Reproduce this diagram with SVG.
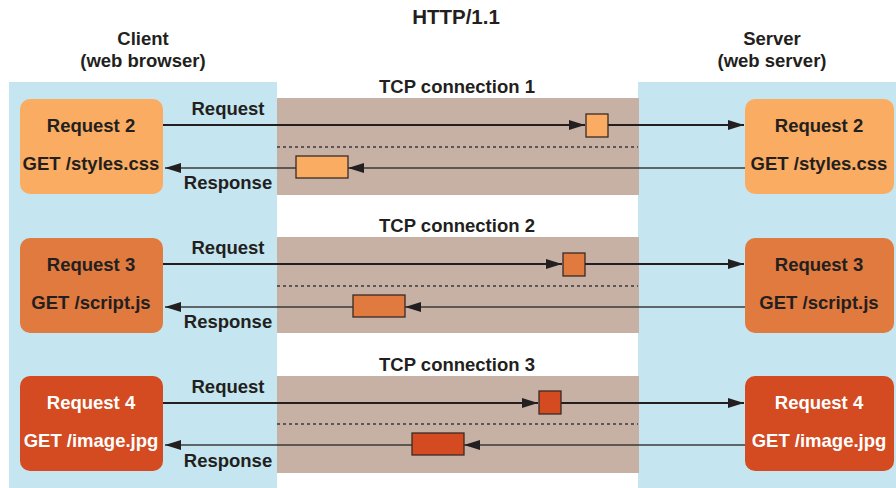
<svg xmlns="http://www.w3.org/2000/svg" width="896" height="488" viewBox="0 0 896 488">
<defs>
<style>
text{font-family:"Liberation Sans",Arial,sans-serif;font-weight:bold;fill:#231F20;text-anchor:middle}
.h{font-size:18.5px}
.t{font-size:20.5px}
.n{font-size:18.5px}
.w{fill:#fff}
.req{stroke:#231F20;stroke-width:2.2;fill:none}
.res{stroke:#3a3a3a;stroke-width:1.6;fill:none}
.dash{stroke:#3a3a3a;stroke-width:1.5;stroke-dasharray:3 3;fill:none}
.pk{stroke:#3a2a25;stroke-width:1.3}
</style>
<marker id="ar2" markerWidth="16" markerHeight="10" refX="16" refY="5" orient="auto" markerUnits="userSpaceOnUse" viewBox="0 0 16 10">
<path d="M0,0 L16,5 L0,10 Z" fill="#231F20"/>
</marker>
</defs>
<rect width="896" height="488" fill="#fff"/>
<text class="t" x="456" y="24">HTTP/1.1</text>
<text class="h" x="143" y="45">Client</text>
<text class="h" x="143" y="67">(web browser)</text>
<text class="h" x="772" y="45">Server</text>
<text class="h" x="772" y="67">(web server)</text>
<rect x="9" y="82" width="268" height="406" fill="#C5E6F0"/>
<rect x="638" y="82" width="258" height="406" fill="#C5E6F0"/>
<g id="tcp1"><rect x="277" y="98" width="362" height="97" fill="#C7B1A5"/><text class="n" x="457" y="93">TCP connection 1</text></g>
<g id="tcp2"><rect x="277" y="237" width="362" height="96" fill="#C7B1A5"/><text class="n" x="457" y="232">TCP connection 2</text></g>
<g id="tcp3"><rect x="277" y="376" width="362" height="97" fill="#C7B1A5"/><text class="n" x="457" y="371">TCP connection 3</text></g>
<g id="connectors">
<line class="req" x1="163" y1="125" x2="585" y2="125" marker-end="url(#ar2)"/>
<line class="req" x1="608" y1="125" x2="744" y2="125" marker-end="url(#ar2)"/>
<line class="dash" x1="277" y1="147" x2="638" y2="147"/>
<line class="res" x1="745" y1="168" x2="348" y2="168" marker-end="url(#ar2)"/>
<line class="res" x1="296" y1="168" x2="165" y2="168" marker-end="url(#ar2)"/>
<rect class="pk" x="586" y="114" width="22" height="23" fill="#F9AC62"/>
<rect class="pk" x="296" y="156" width="52" height="22" fill="#F9AC62"/>
<text class="n" x="228" y="115">Request</text>
<text class="n" x="228" y="189">Response</text>

<line class="req" x1="163" y1="264" x2="562" y2="264" marker-end="url(#ar2)"/>
<line class="req" x1="585" y1="264" x2="744" y2="264" marker-end="url(#ar2)"/>
<line class="dash" x1="277" y1="286" x2="638" y2="286"/>
<line class="res" x1="745" y1="307" x2="405" y2="307" marker-end="url(#ar2)"/>
<line class="res" x1="353" y1="307" x2="165" y2="307" marker-end="url(#ar2)"/>
<rect class="pk" x="563" y="253" width="22" height="23" fill="#E07A3E"/>
<rect class="pk" x="353" y="295" width="52" height="22" fill="#E07A3E"/>
<text class="n" x="228" y="254">Request</text>
<text class="n" x="228" y="328">Response</text>

<line class="req" x1="163" y1="403" x2="538" y2="403" marker-end="url(#ar2)"/>
<line class="req" x1="561" y1="403" x2="744" y2="403" marker-end="url(#ar2)"/>
<line class="dash" x1="277" y1="424" x2="638" y2="424"/>
<line class="res" x1="745" y1="445" x2="464" y2="445" marker-end="url(#ar2)"/>
<line class="res" x1="412" y1="445" x2="165" y2="445" marker-end="url(#ar2)"/>
<rect class="pk" x="539" y="391" width="22" height="23" fill="#D44A21"/>
<rect class="pk" x="412" y="433" width="52" height="22" fill="#D44A21"/>
<text class="n" x="228" y="393">Request</text>
<text class="n" x="228" y="467">Response</text>
</g>
<g id="c2"><rect x="20" y="99" width="143" height="95" rx="10" fill="#F9AC62"/><text class="n" x="91" y="132">Request 2</text><text class="n" x="91" y="170">GET /styles.css</text></g>
<g id="s2"><rect x="745" y="99" width="149" height="95" rx="10" fill="#F9AC62"/><text class="n" x="819" y="132">Request 2</text><text class="n" x="819" y="170">GET /styles.css</text></g>
<g id="c3"><rect x="20" y="238" width="143" height="95" rx="10" fill="#E07A3E"/><text class="n" x="91" y="271">Request 3</text><text class="n" x="91" y="309">GET /script.js</text></g>
<g id="s3"><rect x="745" y="238" width="149" height="95" rx="10" fill="#E07A3E"/><text class="n" x="819" y="271">Request 3</text><text class="n" x="819" y="309">GET /script.js</text></g>
<g id="c4"><rect x="20" y="376" width="143" height="95" rx="10" fill="#D44A21"/><text class="n w" x="91" y="409">Request 4</text><text class="n w" x="91" y="447">GET /image.jpg</text></g>
<g id="s4"><rect x="745" y="376" width="149" height="95" rx="10" fill="#D44A21"/><text class="n w" x="819" y="409">Request 4</text><text class="n w" x="819" y="447">GET /image.jpg</text></g>
</svg>
